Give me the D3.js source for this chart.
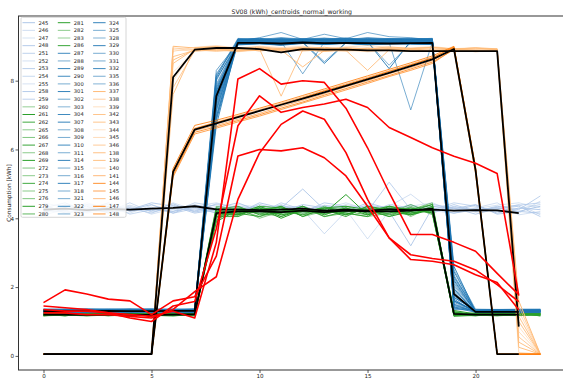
<!DOCTYPE html>
<html>
<head>
<meta charset="utf-8">
<script src="https://cdn.jsdelivr.net/npm/d3@7"></script>
<style>
  body { margin: 0; background: #fff; }
  svg { display: block; }
  text { font-family: "DejaVu Sans", sans-serif; fill: #222; }
</style>
</head>
<body>
<script>
// Hour of day for the meter profiles
const hours = [0,1,2,3,4,5,6,7,8,9,10,11,12,13,14,15,16,17,18,19,20,21,22,23];
const xTicks = [0, 5, 10, 15, 20];
const yTicks = [0, 2, 4, 6, 8];

// Cluster 1: flat all-day consumers
const lightBlueIds = ['245','246','247','248','251','252','253','254','255','258','259'];
const lightBlueSeries = [
  [4.25,4.30,4.18,4.35,4.22,4.28,4.20,4.32,4.15,4.25,4.30,4.20,4.35,4.18,4.25,4.22,4.30,4.20,4.28,4.15,4.25,4.30,4.20,4.35],
  [4.15,4.40,4.25,4.20,4.45,4.18,4.30,4.22,4.40,4.20,4.35,4.15,4.25,3.55,4.20,4.30,4.25,4.38,4.20,4.32,4.18,4.25,4.40,4.10],
  [4.35,4.20,4.45,4.28,4.15,4.38,4.25,4.40,4.20,4.30,4.18,4.40,4.20,4.30,4.25,3.40,4.20,4.28,4.35,4.25,4.30,4.20,4.15,4.50],
  [4.20,4.28,4.35,4.15,4.30,4.22,4.42,4.18,4.30,4.45,4.20,4.30,4.85,4.25,4.18,4.35,4.20,3.20,4.30,4.22,4.38,4.15,4.30,4.25],
  [4.40,4.15,4.25,4.45,4.20,4.32,4.15,4.28,4.22,4.18,4.40,4.25,4.20,4.38,4.30,4.20,5.05,4.25,4.18,4.40,4.20,4.35,4.25,4.65],
  [4.10,4.25,4.38,4.22,4.35,4.12,4.28,4.35,4.45,4.28,4.22,4.35,4.30,4.20,4.40,4.28,4.35,4.70,4.22,4.15,4.30,4.45,4.10,4.20],
  [4.30,4.45,4.20,4.30,4.25,4.45,4.35,4.15,4.25,4.35,4.28,4.18,4.40,4.30,4.20,4.45,4.28,4.22,4.40,4.30,4.12,4.28,4.35,4.05],
  [4.22,4.18,4.30,4.40,4.12,4.25,4.20,4.45,4.35,4.22,4.15,4.45,4.25,4.35,4.30,4.15,4.40,4.30,4.25,4.45,4.35,4.20,4.28,4.40],
  [4.45,4.32,4.15,4.25,4.38,4.20,4.45,4.25,4.18,4.40,4.32,4.22,4.15,4.28,4.45,4.25,4.18,4.35,4.45,4.20,4.28,4.38,4.45,4.30],
  [4.18,4.35,4.28,4.18,4.25,4.40,4.15,4.38,4.28,4.15,4.45,4.30,4.35,4.15,4.22,4.38,4.30,4.15,4.35,4.28,4.40,4.12,4.20,4.15],
  [4.28,4.22,4.40,4.32,4.30,4.15,4.38,4.20,4.42,4.32,4.25,4.38,4.18,4.45,4.35,4.30,4.22,4.40,4.15,4.35,4.22,4.32,4.38,4.45]
];

// Cluster 2: office hours, medium load
const greenIds = ['260','261','262','265','266','267','268','269','272','273','274','275','276','279','280','281','282','283','286'];
const greenSeries = [
  [1.18,1.20,1.17,1.19,1.21,1.18,1.20,1.22,4.05,4.20,4.15,4.25,4.10,4.22,4.18,4.25,4.12,4.20,4.30,1.20,1.18,1.20,1.19,1.21],
  [1.22,1.21,1.20,1.23,1.19,1.22,1.24,1.20,4.15,4.10,4.30,4.05,4.25,4.15,4.30,4.10,4.28,4.15,4.25,1.25,1.21,1.19,1.22,1.20],
  [1.20,1.18,1.22,1.20,1.24,1.20,1.18,1.25,3.95,4.30,4.20,4.15,4.35,4.05,4.20,4.20,4.15,4.30,4.15,1.18,1.22,1.20,1.18,1.22],
  [1.16,1.19,1.18,1.17,1.20,1.16,1.21,1.18,4.20,4.05,4.25,4.30,4.15,4.25,4.10,4.30,4.20,4.10,4.35,1.30,1.19,1.17,1.21,1.19],
  [1.24,1.22,1.25,1.21,1.23,1.25,1.22,1.19,4.10,4.25,4.05,4.20,4.30,4.10,4.35,4.15,4.25,4.25,4.20,1.22,1.24,1.22,1.20,1.23],
  [1.19,1.24,1.19,1.22,1.18,1.21,1.19,1.23,4.30,4.15,4.35,4.10,4.20,4.30,4.15,4.05,4.35,4.20,4.40,1.15,1.18,1.23,1.24,1.18],
  [1.21,1.17,1.23,1.18,1.22,1.19,1.23,1.17,4.00,4.35,4.10,4.35,4.05,4.20,4.25,4.25,4.05,4.35,4.10,1.28,1.20,1.21,1.17,1.20],
  [1.17,1.20,1.21,1.24,1.17,1.23,1.20,1.21,4.25,4.10,4.30,4.00,4.25,4.15,4.69,4.10,4.30,4.10,4.30,1.21,1.23,1.18,1.22,1.24],
  [1.23,1.19,1.16,1.19,1.25,1.17,1.25,1.24,4.10,4.20,4.20,4.25,4.10,4.35,4.10,4.30,4.20,4.25,4.45,1.19,1.17,1.24,1.20,1.17],
  [1.20,1.23,1.24,1.16,1.20,1.24,1.17,1.19,4.35,4.25,4.15,4.15,4.35,4.10,4.30,4.15,4.10,4.30,4.20,1.24,1.21,1.19,1.23,1.21],
  [1.18,1.21,1.19,1.21,1.16,1.20,1.22,1.16,4.05,4.05,4.35,4.30,4.20,4.25,4.05,4.35,4.25,4.15,4.25,1.17,1.25,1.22,1.19,1.25],
  [1.25,1.18,1.22,1.25,1.23,1.19,1.18,1.23,4.20,4.30,4.00,4.20,4.15,4.20,4.25,4.20,4.35,4.05,4.35,1.26,1.19,1.16,1.21,1.19],
  [1.16,1.22,1.18,1.20,1.19,1.22,1.24,1.20,4.15,4.15,4.25,4.10,4.30,4.05,4.15,4.05,4.15,4.40,4.15,1.20,1.16,1.25,1.18,1.22],
  [1.22,1.16,1.25,1.18,1.22,1.16,1.19,1.22,3.90,4.25,4.20,4.35,4.05,4.30,4.35,4.25,4.05,4.20,4.30,1.32,1.22,1.20,1.25,1.16],
  [1.19,1.25,1.20,1.23,1.18,1.24,1.21,1.18,4.25,4.35,4.10,4.15,4.25,4.15,4.20,4.10,4.30,4.25,4.40,1.18,1.20,1.18,1.17,1.20],
  [1.21,1.20,1.17,1.19,1.24,1.18,1.16,1.21,4.10,4.10,4.30,4.25,4.20,4.25,4.10,4.35,4.20,4.10,4.25,1.23,1.24,1.23,1.22,1.23],
  [1.24,1.18,1.23,1.22,1.20,1.21,1.23,1.19,4.30,4.20,4.15,4.05,4.35,4.10,4.30,4.15,4.25,4.30,4.20,1.21,1.17,1.19,1.20,1.18],
  [1.17,1.23,1.21,1.17,1.21,1.25,1.20,1.24,4.00,4.25,4.25,4.20,4.10,4.20,4.20,4.25,4.10,4.15,4.35,1.19,1.22,1.24,1.19,1.21],
  [1.20,1.19,1.24,1.21,1.19,1.20,1.22,1.20,4.20,4.15,4.05,4.30,4.20,4.30,4.25,4.20,4.35,4.25,4.15,1.27,1.19,1.21,1.23,1.24]
];

// Cluster 3: office hours, high load
const blueIds = ['287','288','289','290','300','301','302','303','304','307','308','309','310','311','314','315','316','317','318','321','322','323','324','325','328','329','330','331','332','335','336'];
const blueSeries = [
  [1.30,1.31,1.29,1.32,1.30,1.31,1.30,1.32,7.60,9.10,9.12,9.08,9.15,9.10,9.13,9.09,9.14,9.11,9.12,1.90,1.30,1.29,1.31,1.30],
  [1.33,1.32,1.34,1.31,1.33,1.32,1.35,1.33,7.20,9.15,9.18,9.14,9.20,9.16,9.19,9.15,9.18,9.17,9.20,1.50,1.28,1.30,1.28,1.29],
  [1.28,1.29,1.27,1.30,1.28,1.27,1.29,1.28,8.10,9.20,9.16,9.22,9.18,9.21,9.17,9.22,9.19,9.20,9.18,2.30,1.32,1.31,1.33,1.32],
  [1.35,1.36,1.34,1.35,1.37,1.35,1.34,1.36,7.80,9.05,9.08,9.04,9.10,9.06,9.09,9.05,9.07,9.08,9.06,1.40,1.27,1.28,1.27,1.28],
  [1.31,1.30,1.32,1.30,1.31,1.33,1.31,1.30,6.90,9.12,9.15,9.13,8.20,9.12,9.16,9.13,9.15,9.12,9.14,1.70,1.31,1.33,1.30,1.31],
  [1.29,1.28,1.30,1.29,1.28,1.30,1.28,1.29,7.50,9.18,9.14,9.20,9.16,9.19,9.15,9.20,9.17,9.18,9.16,2.60,1.29,1.27,1.29,1.27],
  [1.34,1.33,1.35,1.34,1.33,1.34,1.36,1.34,8.30,9.10,9.13,9.09,9.12,8.55,9.11,9.14,9.10,9.13,9.11,1.35,1.33,1.32,1.34,1.33],
  [1.27,1.28,1.26,1.28,1.27,1.29,1.27,1.28,7.00,9.22,9.19,9.24,9.20,9.23,9.19,9.24,9.21,9.22,9.20,2.00,1.26,1.28,1.26,1.27],
  [1.32,1.33,1.31,1.33,1.32,1.31,1.33,1.31,7.70,9.08,9.11,9.07,9.13,9.09,9.12,9.08,9.11,9.10,9.09,1.60,1.30,1.31,1.32,1.31],
  [1.30,1.29,1.31,1.30,1.32,1.30,1.29,1.31,7.40,9.14,9.17,9.13,9.18,9.14,9.17,9.13,8.35,9.15,9.16,2.20,1.28,1.30,1.29,1.30],
  [1.36,1.35,1.37,1.36,1.35,1.37,1.35,1.36,8.00,9.16,9.12,9.17,9.14,9.16,9.13,9.18,9.15,9.14,9.17,1.45,1.34,1.35,1.33,1.34],
  [1.28,1.27,1.29,1.27,1.29,1.28,1.30,1.28,7.30,9.06,9.09,9.05,9.11,9.07,9.10,9.06,9.09,9.08,9.07,1.80,1.29,1.28,1.30,1.29],
  [1.31,1.32,1.30,1.31,1.30,1.32,1.31,1.33,6.70,9.20,9.23,9.18,9.22,9.20,9.24,9.19,9.22,9.21,9.23,2.45,1.31,1.30,1.31,1.32],
  [1.33,1.34,1.32,1.34,1.33,1.35,1.33,1.32,7.90,9.12,9.09,9.14,9.10,9.13,9.09,9.14,9.11,7.15,9.12,1.55,1.32,1.33,1.31,1.33],
  [1.29,1.30,1.28,1.30,1.29,1.28,1.30,1.29,7.55,9.18,9.21,9.17,9.20,9.18,9.22,9.17,9.20,9.19,9.21,1.95,1.27,1.29,1.28,1.28],
  [1.34,1.33,1.35,1.33,1.34,1.36,1.34,1.35,8.20,9.10,9.14,9.10,9.16,9.11,9.15,9.10,9.14,9.12,9.13,1.38,1.33,1.34,1.35,1.34],
  [1.30,1.31,1.29,1.31,1.30,1.29,1.31,1.30,7.10,9.15,9.25,9.40,9.20,9.35,9.22,9.40,9.28,9.25,9.18,2.10,1.30,1.29,1.30,1.31],
  [1.27,1.26,1.28,1.27,1.26,1.28,1.27,1.26,7.65,9.04,9.07,9.03,9.08,9.05,9.08,9.04,9.07,9.06,9.05,1.65,1.26,1.27,1.26,1.26],
  [1.32,1.31,1.33,1.32,1.31,1.33,1.32,1.31,7.35,9.21,9.18,9.23,9.19,9.22,9.18,9.23,9.20,9.21,9.19,2.35,1.31,1.32,1.33,1.32],
  [1.35,1.34,1.36,1.34,1.35,1.34,1.36,1.35,7.85,9.13,9.16,9.12,9.17,9.13,9.16,9.12,9.15,9.14,9.15,1.50,1.35,1.34,1.35,1.36],
  [1.29,1.30,1.28,1.29,1.30,1.28,1.29,1.30,6.85,9.09,9.12,9.08,9.13,9.10,9.13,9.09,9.12,9.11,9.10,1.75,1.28,1.29,1.28,1.29],
  [1.31,1.30,1.32,1.31,1.32,1.30,1.31,1.32,7.45,9.17,9.14,9.19,9.15,9.18,9.14,9.19,9.16,9.17,9.15,2.05,1.30,1.31,1.30,1.30],
  [1.33,1.32,1.34,1.33,1.32,1.34,1.33,1.34,8.05,9.07,9.10,9.06,9.12,9.08,9.11,9.07,9.10,9.09,9.08,1.42,1.32,1.33,1.32,1.33],
  [1.28,1.29,1.27,1.28,1.29,1.27,1.28,1.27,7.25,9.19,9.22,9.18,9.21,9.19,9.23,9.18,9.21,9.20,9.22,1.85,1.27,1.28,1.27,1.28],
  [1.36,1.35,1.36,1.37,1.35,1.36,1.35,1.37,7.75,9.11,9.08,9.13,9.09,9.12,9.08,9.13,8.45,9.11,9.09,2.50,1.36,1.35,1.36,1.35],
  [1.30,1.31,1.30,1.29,1.31,1.30,1.31,1.29,6.95,9.16,9.19,9.15,9.20,9.16,9.19,9.15,9.18,9.17,9.18,1.60,1.31,1.30,1.29,1.31],
  [1.32,1.33,1.31,1.32,1.33,1.31,1.32,1.33,7.50,9.05,9.08,9.04,9.09,9.06,9.09,9.05,9.08,9.07,9.06,2.15,1.29,1.31,1.30,1.30],
  [1.27,1.28,1.29,1.27,1.28,1.29,1.28,1.27,8.15,9.23,9.20,9.25,9.21,9.24,9.20,9.25,9.22,9.23,9.21,1.48,1.28,1.27,1.29,1.28],
  [1.34,1.35,1.33,1.34,1.35,1.33,1.35,1.34,7.15,9.13,9.10,9.15,9.11,8.50,9.10,9.15,9.12,9.13,9.11,1.70,1.33,1.34,1.33,1.35],
  [1.29,1.28,1.30,1.28,1.30,1.29,1.28,1.30,7.70,9.18,9.15,9.20,9.16,9.19,9.15,9.20,9.17,9.18,9.16,2.25,1.30,1.28,1.31,1.29],
  [1.31,1.32,1.31,1.30,1.32,1.31,1.30,1.31,7.40,9.10,9.13,9.09,9.14,9.10,9.14,9.09,9.12,9.11,9.13,1.58,1.31,1.32,1.30,1.31]
];

// Cluster 4: long-day high load (flat plateau, then rising ramp profiles)
const orangeIds = ['337','338','339','342','343','344','345','346','138','139','140','141','144','145','146','147','148'];
const orangeSeries = [
  [0.05,0.05,0.05,0.05,0.05,0.05,9.00,8.95,8.98,8.92,8.96,8.90,8.94,8.97,8.91,8.95,8.90,8.93,8.96,8.92,8.95,8.90,1.60,0.05],
  [0.05,0.05,0.05,0.05,0.05,0.05,8.95,8.90,8.85,8.90,8.88,8.93,8.86,8.90,8.87,8.92,8.88,8.85,8.90,8.86,8.89,8.87,1.45,0.05],
  [0.05,0.05,0.05,0.05,0.05,0.05,8.85,8.97,9.02,8.95,9.00,8.96,9.00,8.94,8.98,9.02,8.97,8.95,8.99,8.93,8.96,8.92,1.30,0.05],
  [0.05,0.05,0.05,0.05,0.05,0.05,8.70,8.88,8.93,8.87,8.92,7.55,8.90,8.85,8.91,8.87,8.93,8.88,8.86,8.90,8.84,8.88,1.15,0.05],
  [0.05,0.05,0.05,0.05,0.05,0.05,8.50,8.92,8.88,8.95,8.86,8.94,8.89,8.93,8.88,8.30,8.90,8.93,8.87,8.91,8.88,8.86,1.00,0.05],
  [0.05,0.05,0.05,0.05,0.05,0.05,8.25,8.85,8.90,8.84,8.89,8.85,8.91,8.86,8.89,8.84,8.88,8.85,8.89,8.84,8.87,8.85,0.85,0.05],
  [0.05,0.05,0.05,0.05,0.05,0.05,8.00,8.93,8.96,8.90,8.94,8.91,8.95,8.90,8.94,8.91,8.96,8.92,8.94,8.90,8.93,8.91,0.70,0.05],
  [0.05,0.05,0.05,0.05,0.05,0.05,7.80,8.87,8.91,8.86,8.90,8.87,8.92,8.88,8.86,8.90,8.87,8.91,8.85,8.89,8.86,8.88,0.55,0.05],
  [0.05,0.05,0.05,0.05,0.05,0.05,7.60,8.96,8.99,8.94,8.98,8.93,8.97,8.92,8.96,8.93,8.98,8.94,8.97,8.92,8.95,8.93,0.40,0.05],
  [0.05,0.05,0.05,0.05,0.05,0.05,8.60,8.90,8.94,8.88,8.93,8.89,8.40,8.88,8.92,8.89,8.94,8.90,8.88,8.92,8.89,8.90,0.25,0.05],
  [0.05,0.05,0.05,0.05,0.05,0.05,8.90,8.86,8.89,8.85,8.91,8.86,8.90,8.85,8.88,8.86,8.90,8.87,8.89,8.85,8.88,8.86,0.10,0.05],
  [0.05,0.05,0.05,0.05,0.05,0.05,5.30,6.55,6.70,6.88,7.05,7.25,7.43,7.62,7.82,8.00,8.20,8.38,8.58,8.95,5.40,0.05,0.05,0.05],
  [0.05,0.05,0.05,0.05,0.05,0.05,5.45,6.70,6.85,7.02,7.20,7.38,7.57,7.76,7.95,8.14,8.33,8.52,8.72,9.00,5.50,0.05,0.05,0.05],
  [0.05,0.05,0.05,0.05,0.05,0.05,5.20,6.45,6.62,6.80,6.97,7.16,7.35,7.54,7.73,7.92,8.12,8.30,8.50,8.92,5.30,0.05,0.05,0.05],
  [0.05,0.05,0.05,0.05,0.05,0.05,5.40,6.62,6.80,6.98,7.16,7.34,7.53,7.72,7.91,8.10,8.29,8.48,8.68,8.96,5.45,0.05,0.05,0.05],
  [0.05,0.05,0.05,0.05,0.05,0.05,5.35,6.60,6.78,6.95,7.12,7.31,7.50,7.70,7.88,8.07,8.27,8.46,8.66,8.98,5.45,0.05,0.05,0.05],
  [0.05,0.05,0.05,0.05,0.05,0.05,5.25,6.50,6.66,6.84,7.01,7.20,7.38,7.58,7.77,7.96,8.15,8.34,8.54,8.90,5.35,0.05,0.05,0.05]
];

// Cluster centroids (hours 0-22)
const centroidSeries = [
  [4.25,4.28,4.24,4.27,4.25,4.28,4.30,4.35,4.26,4.25,4.24,4.25,4.28,4.22,4.25,4.22,4.26,4.24,4.25,4.22,4.24,4.23,4.15],
  [1.20,1.20,1.19,1.20,1.20,1.19,1.20,1.21,4.15,4.20,4.20,4.18,4.22,4.18,4.22,4.20,4.20,4.22,4.28,1.22,1.20,1.20,1.20],
  [1.30,1.30,1.30,1.31,1.30,1.30,1.31,1.31,7.55,9.10,9.10,9.08,9.11,9.09,9.10,9.09,9.08,9.09,9.10,1.80,1.28,1.28,1.28],
  [0.05,0.05,0.05,0.05,0.05,0.05,8.10,8.90,8.95,8.95,8.92,8.82,8.92,8.90,8.90,8.88,8.88,8.86,8.86,8.86,8.86,8.86,0.85],
  [0.05,0.05,0.05,0.05,0.05,0.05,5.35,6.58,6.76,6.94,7.12,7.30,7.48,7.66,7.85,8.04,8.23,8.42,8.62,8.92,5.40,0.05,0.05]
];

// Profiles not matched to any cluster (hours 0-22)
const outlierSeries = [
  [1.45,1.40,1.35,1.25,1.20,1.15,1.30,1.10,3.30,8.05,8.35,7.90,8.00,7.95,7.20,6.05,4.75,3.53,3.53,3.30,3.04,2.40,1.78],
  [1.55,1.92,1.80,1.65,1.60,1.20,1.60,1.72,2.90,5.81,6.00,5.96,6.05,5.76,5.23,4.35,3.43,2.80,2.75,2.65,2.36,2.13,1.34],
  [1.35,1.30,1.30,1.25,1.10,1.00,1.45,1.58,3.70,6.69,7.56,7.08,7.22,7.32,7.46,7.22,6.64,6.35,6.05,5.80,5.60,5.30,1.75],
  [1.25,1.25,1.20,1.20,1.15,1.10,1.35,1.87,2.30,4.55,5.90,6.73,7.12,6.88,5.91,4.55,3.43,2.94,2.83,2.75,2.50,2.07,1.58]
];

// Line styles per meter
const lightBlueAlpha = [1,0.6,0.5,0.9,0.8,0.55,0.85,0.7,0.5,0.9,0.8];
const greenAlpha = [0.5,1,0.9,0.55,0.6,0.95,0.55,1,0.6,0.55,0.9,0.55,0.6,1,0.75,1,0.55,0.5,0.95];
const blueAlpha = [0.85,0.6,0.9,0.85,0.6,0.9,0.65,0.55,0.85,0.9,0.6,0.6,0.85,0.6,0.9,0.6,0.6,0.9,0.6,0.6,0.85,0.6,0.9,0.6,0.55,0.9,0.6,0.6,0.85,0.6,0.55];
const orangeColor = ['#ffbb78','#ffbb78','#ffbb78','#ffbb78','#ffbb78','#ffbb78','#ffbb78','#ffbb78','#ffbb78','#ffbb78','#ffbb78',
                     '#ff7f0e','#ff7f0e','#ff7f0e','#ff7f0e','#ff7f0e','#ff7f0e'];
const orangeAlpha = [1,0.7,0.45,0.85,0.85,0.4,0.5,0.75,0.9,0.9,0.5,0.55,0.85,0.7,0.5,1,0.8];

const W = 563, H = 380;
const box = { left: 18.5, top: 16, right: 565, bottom: 370 };

const x = d3.scaleLinear().domain([-1.157, 24.14]).range([box.left, box.right]);
const y = d3.scaleLinear().domain([-0.41, 9.88]).range([box.bottom, box.top]);

const svg = d3.select('body').append('svg').attr('width', W).attr('height', H);
svg.append('rect').attr('width', W).attr('height', H).attr('fill', '#fff');

svg.append('defs').append('clipPath').attr('id', 'plotClip')
  .append('rect')
  .attr('x', box.left).attr('y', box.top)
  .attr('width', box.right - box.left).attr('height', box.bottom - box.top);

const plot = svg.append('g').attr('clip-path', 'url(#plotClip)');
const line = d3.line().x((d, i) => x(hours[i])).y(d => y(d));

// Meter groups in drawing / legend order
const groups = [
  { ids: lightBlueIds, series: lightBlueSeries, color: () => '#aec7e8', alpha: i => lightBlueAlpha[i] },
  { ids: greenIds, series: greenSeries, color: () => '#2ca02c', alpha: i => greenAlpha[i] },
  { ids: blueIds, series: blueSeries, color: () => '#1f77b4', alpha: i => blueAlpha[i] },
  { ids: orangeIds, series: orangeSeries, color: i => orangeColor[i], alpha: i => orangeAlpha[i] }
];

const legendItems = [];
groups.forEach(g => {
  g.series.forEach((s, i) => {
    plot.append('path')
      .attr('d', line(s))
      .attr('fill', 'none')
      .attr('stroke', g.color(i))
      .attr('stroke-opacity', g.alpha(i))
      .attr('stroke-width', 1)
      .attr('stroke-linejoin', 'round');
    legendItems.push({ label: g.ids[i], color: g.color(i), alpha: g.alpha(i) });
  });
});

centroidSeries.forEach(s => {
  plot.append('path')
    .attr('d', line(s))
    .attr('fill', 'none')
    .attr('stroke', '#000')
    .attr('stroke-width', 1.8)
    .attr('stroke-linejoin', 'round');
});

outlierSeries.forEach(s => {
  plot.append('path')
    .attr('d', line(s))
    .attr('fill', 'none')
    .attr('stroke', '#ff0000')
    .attr('stroke-width', 1.6)
    .attr('stroke-linejoin', 'round');
});

// Axes frame
svg.append('rect')
  .attr('x', box.left).attr('y', box.top)
  .attr('width', box.right - box.left).attr('height', box.bottom - box.top)
  .attr('fill', 'none').attr('stroke', '#333').attr('stroke-width', 1);

const xAxis = svg.append('g')
  .attr('transform', `translate(0,${box.bottom})`)
  .call(d3.axisBottom(x).tickValues(xTicks).tickSize(3).tickPadding(1.5).tickFormat(d3.format('d')));
const yAxis = svg.append('g')
  .attr('transform', `translate(${box.left},0)`)
  .call(d3.axisLeft(y).tickValues(yTicks).tickSize(3).tickPadding(1.5).tickFormat(d3.format('d')));
[xAxis, yAxis].forEach(a => {
  a.select('.domain').remove();
  a.selectAll('line').attr('stroke', '#333').attr('stroke-width', 0.8);
  a.selectAll('text').attr('font-size', 5.6).attr('fill', '#222').style('font-family', '"DejaVu Sans", sans-serif');
});

svg.append('text')
  .attr('x', (box.left + box.right) / 2).attr('y', 14)
  .attr('text-anchor', 'middle').attr('font-size', 6.2)
  .text('SV08 (kWh)_centroids_normal_working');

svg.append('text')
  .attr('transform', `translate(9,${(box.top + box.bottom) / 2}) rotate(-90)`)
  .attr('text-anchor', 'middle').attr('dominant-baseline', 'middle').attr('font-size', 5.8)
  .text('Consumption [kWh]');

// Legend: three columns filled top to bottom
const legend = svg.append('g');
const rows = 26, rowH = 7.65, colW = 35.3;
legend.append('rect')
  .attr('x', 21).attr('y', 17.3).attr('width', 105).attr('height', 200)
  .attr('rx', 1.5).attr('fill', '#fff').attr('fill-opacity', 0.8)
  .attr('stroke', '#cccccc').attr('stroke-width', 0.8);
legendItems.forEach((it, k) => {
  const c = Math.floor(k / rows), r = k % rows;
  const ly = 22.7 + r * rowH;
  const lx = 22.5 + c * colW;
  legend.append('line')
    .attr('x1', lx).attr('x2', lx + 12.5).attr('y1', ly).attr('y2', ly)
    .attr('stroke', it.color).attr('stroke-opacity', it.alpha).attr('stroke-width', 1);
  legend.append('text')
    .attr('x', lx + 16).attr('y', ly).attr('dy', '0.35em')
    .attr('font-size', 5.2).text(it.label);
});
</script>
</body>
</html>
